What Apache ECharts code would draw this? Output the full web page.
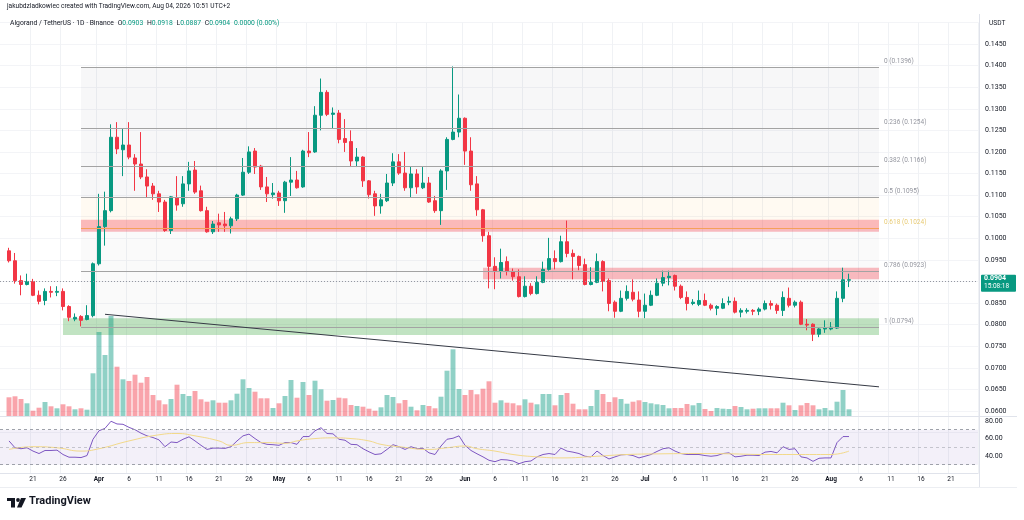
<!DOCTYPE html>
<html><head><meta charset="utf-8">
<script src="https://cdn.jsdelivr.net/npm/echarts@6/dist/echarts.min.js"></script>
<style>html,body{margin:0;padding:0;background:#fff}#c{width:1024px;height:520px}</style>
</head><body><div id="c"></div>
<script>
// ---------- DATA ----------
const axisStart = '2026-03-16';
const axisEnd = '2026-08-25';
const dataStart = '2026-03-17';
// daily candles [open, high, low, close]
const ohlc = [
// March 17-31
[0.0971,0.0978,0.0944,0.0948],[0.0948,0.0966,0.0895,0.0902],[0.0902,0.0914,0.0868,0.0893],[0.0893,0.0918,0.0891,0.0900],
[0.0900,0.0906,0.0866,0.0868],[0.0868,0.0879,0.0847,0.0854],[0.0856,0.0884,0.0845,0.0877],[0.0877,0.0889,0.0863,0.0875],
[0.0875,0.0889,0.0866,0.0877],[0.0877,0.0884,0.0833,0.0842],[0.0842,0.0845,0.0808,0.0817],[0.0813,0.0826,0.0808,0.0817],
[0.0819,0.0822,0.0796,0.0810],[0.0812,0.0845,0.0810,0.0821],[0.0821,0.0944,0.0817,0.0941],
// April
[0.0941,0.1103,0.0937,0.1027],[0.1027,0.1108,0.0983,0.1064],[0.1064,0.1264,0.1060,0.1234],[0.1234,0.1269,0.1195,0.1207],
[0.1205,0.1253,0.1144,0.1216],[0.1216,0.1269,0.1183,0.1188],[0.1186,0.1195,0.1110,0.1172],[0.1172,0.1246,0.1137,0.1142],
[0.1142,0.1160,0.1094,0.1121],[0.1121,0.1128,0.1089,0.1103],[0.1103,0.1110,0.1061,0.1084],[0.1084,0.1089,0.1015,0.1018],
[0.1018,0.1098,0.1010,0.1096],[0.1094,0.1144,0.1064,0.1077],[0.1080,0.1144,0.1073,0.1126],[0.1126,0.1177,0.1110,0.1156],
[0.1158,0.1179,0.1103,0.1107],[0.1110,0.1122,0.1062,0.1064],[0.1064,0.1073,0.1013,0.1015],[0.1015,0.1040,0.1010,0.1033],
[0.1036,0.1057,0.1015,0.1031],[0.1033,0.1061,0.1015,0.1029],[0.1029,0.1050,0.1011,0.1045],[0.1045,0.1103,0.1040,0.1100],
[0.1100,0.1186,0.1098,0.1153],[0.1153,0.1213,0.1149,0.1200],[0.1202,0.1209,0.1149,0.1165],[0.1167,0.1170,0.1112,0.1119],
[0.1119,0.1142,0.1084,0.1103],[0.1101,0.1128,0.1092,0.1105],
// May
[0.1105,0.1110,0.1075,0.1087],[0.1087,0.1133,0.1059,0.1130],[0.1130,0.1188,0.1098,0.1135],[0.1135,0.1156,0.1115,0.1117],
[0.1119,0.1205,0.1117,0.1202],[0.1202,0.1246,0.1188,0.1198],[0.1200,0.1306,0.1198,0.1285],[0.1285,0.1370,0.1250,0.1338],
[0.1338,0.1343,0.1283,0.1287],[0.1287,0.1303,0.1255,0.1290],[0.1290,0.1297,0.1220,0.1229],[0.1231,0.1276,0.1200,0.1222],
[0.1224,0.1250,0.1165,0.1179],[0.1179,0.1209,0.1165,0.1188],[0.1188,0.1190,0.1119,0.1133],[0.1133,0.1135,0.1092,0.1101],
[0.1103,0.1110,0.1052,0.1075],[0.1075,0.1103,0.1057,0.1089],[0.1087,0.1149,0.1084,0.1128],[0.1128,0.1197,0.1121,0.1177],
[0.1177,0.1195,0.1147,0.1151],[0.1151,0.1200,0.1110,0.1117],[0.1117,0.1167,0.1094,0.1149],[0.1149,0.1160,0.1103,0.1119],
[0.1117,0.1165,0.1114,0.1128],[0.1128,0.1142,0.1082,0.1084],[0.1087,0.1098,0.1059,0.1064],[0.1064,0.1160,0.1031,0.1156],
[0.1156,0.1234,0.1112,0.1229],[0.1229,0.1398,0.1227,0.1246],[0.1246,0.1333,0.1234,0.1278],
// June
[0.1278,0.1280,0.1170,0.1202],[0.1202,0.1234,0.1110,0.1124],[0.1126,0.1144,0.1052,0.1066],[0.1066,0.1068,0.0992,0.1006],
[0.1006,0.1015,0.0884,0.0935],[0.0935,0.0956,0.0882,0.0923],[0.0923,0.0976,0.0907,0.0944],[0.0946,0.0958,0.0914,0.0923],
[0.0923,0.0930,0.0902,0.0911],[0.0911,0.0928,0.0863,0.0865],[0.0865,0.0912,0.0863,0.0889],[0.0889,0.0896,0.0868,0.0872],
[0.0872,0.0912,0.0870,0.0898],[0.0898,0.0946,0.0896,0.0928],[0.0928,0.1001,0.0925,0.0953],[0.0953,0.0972,0.0928,0.0946],
[0.0946,0.1006,0.0944,0.0992],[0.0992,0.1041,0.0956,0.0965],[0.0965,0.0974,0.0905,0.0958],[0.0958,0.0960,0.0926,0.0937],
[0.0939,0.0953,0.0891,0.0893],[0.0893,0.0933,0.0891,0.0898],[0.0898,0.0965,0.0896,0.0946],[0.0946,0.0949,0.0877,0.0900],
[0.0902,0.0907,0.0831,0.0849],[0.0852,0.0856,0.0816,0.0831],[0.0831,0.0879,0.0829,0.0861],[0.0861,0.0891,0.0856,0.0877],
[0.0875,0.0905,0.0854,0.0859],[0.0857,0.0877,0.0817,0.0831],
// July
[0.0831,0.0872,0.0815,0.0845],[0.0845,0.0879,0.0843,0.0868],[0.0868,0.0907,0.0866,0.0896],[0.0896,0.0925,0.0889,0.0909],
[0.0909,0.0925,0.0891,0.0912],[0.0914,0.0916,0.0879,0.0889],[0.0889,0.0893,0.0859,0.0863],[0.0863,0.0877,0.0833,0.0849],
[0.0849,0.0859,0.0845,0.0852],[0.0847,0.0879,0.0843,0.0856],[0.0856,0.0872,0.0843,0.0845],[0.0845,0.0849,0.0833,0.0838],
[0.0838,0.0845,0.0822,0.0842],[0.0838,0.0861,0.0836,0.0849],[0.0852,0.0865,0.0845,0.0854],[0.0854,0.0863,0.0826,0.0829],
[0.0829,0.0838,0.0817,0.0833],[0.0831,0.0838,0.0826,0.0833],[0.0833,0.0836,0.0822,0.0831],[0.0831,0.0840,0.0822,0.0836],
[0.0836,0.0856,0.0833,0.0849],[0.0849,0.0856,0.0835,0.0845],[0.0845,0.0849,0.0825,0.0833],[0.0833,0.0877,0.0820,0.0863],
[0.0861,0.0886,0.0840,0.0845],[0.0845,0.0856,0.0840,0.0852],[0.0852,0.0856,0.0799,0.0801],[0.0801,0.0813,0.0787,0.0799],
[0.0801,0.0803,0.0762,0.0778],[0.0778,0.0792,0.0771,0.0790],[0.0790,0.0810,0.0781,0.0792],
// August 1-4
[0.0790,0.0806,0.0787,0.0794],[0.0792,0.0877,0.0790,0.0861],[0.0861,0.0932,0.0852,0.0904],[0.0903,0.0918,0.0887,0.0904]
];
const volume = [
18.7,19.7,17,12.7,5.3,8.3,14,9.7,7.7,11.7,9.7,6.7,7.7,6.3,42.7,
84,61,100,49.3,36.7,35,41.3,33.3,39,21,15.7,11.7,17,31.3,22,20,25,16.7,14.3,15.7,13.3,13.3,15.7,22.3,36.7,28,24.3,17.7,17.7,8,
12.7,20,36,18.3,34,21,35.3,26.7,15.3,16,18.3,17.7,11,10,9.3,7.3,5.3,8.7,21,19,12.7,16,9.3,5.7,11,10,7.7,19.3,45.3,66.7,27,
21,26,21.7,27.3,34.7,13.3,15.7,13.3,12.7,10.7,16.7,13.3,11.7,22,22,10.7,21,23,12.3,6.7,6.7,10,26,22,14,18.7,17,12.3,14.3,15.7,
14,12.7,11.7,11,7.7,8,8,12,10.7,13,7,5,8,7.3,7,10,9,6.7,7.3,7.7,7.7,7.7,7.7,13.3,10.7,6,10.7,13,10.7,6.7,8,
5.7,14.3,26,6.7
];
const rsi = [
57.2,49.4,48.3,49.4,45.6,42.8,46.3,46.3,46.7,41.7,38.6,38.6,38.2,40.5,59.1,
68.8,71.6,79.7,76.6,76.2,72.7,70,66.1,63,61.1,58.4,50.6,56,55.3,59.1,61.9,57.2,52.2,47.5,49,49,48.7,50.6,57.2,63,65,59.9,55.3,53.3,52.9,
52.2,55.3,55.3,53.3,62.2,62.2,68.8,72.3,65.7,65.3,59.1,58,53.3,52.9,48.3,44.8,41.7,42.5,47.5,52.9,50.6,47.5,50.6,48.3,48.7,43.6,41.7,51.4,59.1,60.3,63,
52.2,46.3,42.5,39,35.1,33.5,35.9,35.5,34.3,31.2,33.5,34.3,39,41.7,42.8,41.7,49,45.6,44.4,42.8,39.7,39,45.6,40.5,36.6,39,41.3,41.7,40.5,37.8,
39.7,41.7,45.2,48.3,49.4,45.6,42.8,41.7,41.7,41.7,40.5,39.7,40.5,42.8,43.6,39,39.7,40.9,40.9,40.5,44.4,45.2,43.6,50.6,47.5,48.3,39,37.8,33.9,37.4,37.8,
37.8,55.3,62.2,62.2
];
const rsiMa = [
['2026-03-17',47.5],['2026-03-21',50.6],['2026-03-25',49.4],['2026-03-29',45.6],['2026-04-01',48.3],['2026-04-06',57.2],
['2026-04-11',64.2],['2026-04-14',65.7],['2026-04-17',63],['2026-04-21',57.2],['2026-04-23',52.2],['2026-04-26',55.3],
['2026-04-29',55.3],['2026-05-02',54.5],['2026-05-04',57.2],['2026-05-07',59.9],['2026-05-10',60.7],['2026-05-13',59.9],
['2026-05-16',57.2],['2026-05-18',53.3],['2026-05-21',50.6],['2026-05-26',47.5],['2026-05-29',49.4],['2026-06-01',51.4],
['2026-06-03',48.3],['2026-06-06',45.6],['2026-06-09',41.7],['2026-06-13',39],['2026-06-17',37.8],['2026-06-23',39.7],
['2026-06-28',41.7],['2026-07-04',42.5],['2026-07-10',42.8],['2026-07-15',42.5],['2026-07-21',41.7],['2026-07-26',41.7],
['2026-08-01',41.7],['2026-08-04',45.6]
];
const fibRatios = ['0','0.236','0.382','0.5','0.618','0.786','1'];
const fibPrices = [0.1396,0.1254,0.1166,0.1095,0.1024,0.0923,0.0794];
const fibFrom = '2026-03-29', fibTo = '2026-08-09';
const zones = [
  {from:'2026-03-29', to:'2026-08-09', top:0.1043, bottom:0.1015, kind:'red'},
  {from:'2026-06-04', to:'2026-08-09', top:0.0932, bottom:0.0905, kind:'red'},
  {from:'2026-03-26', to:'2026-08-09', top:0.0815, bottom:0.0776, kind:'green'}
];
const trendline = [['2026-04-02',0.0824],['2026-08-09',0.0656]];
const lastPrice = 0.0904;
const countdown = '15:08:18';
const rsiLevels = [70,50,30];

// ---------- BUILD ----------
const months = ['Jan','Feb','Mar','Apr','May','Jun','Jul','Aug','Sep','Oct','Nov','Dec'];
const categories = [];
for (let t = Date.parse(axisStart+'T00:00:00Z'); t <= Date.parse(axisEnd+'T00:00:00Z'); t += 86400000) {
  categories.push(new Date(t).toISOString().slice(0,10));
}
const off = categories.indexOf(dataStart);
const pad = n => Array(n).fill('-');
const UP = '#089981', DOWN = '#f23645';
const candleData = pad(off).map(()=>['-','-','-','-']).concat(ohlc.map(r => [r[0], r[3], r[2], r[1]]));
const volData = pad(off).concat(volume.map((v,i) => ({value:v, itemStyle:{color: ohlc[i][3] >= ohlc[i][0] ? 'rgba(8,153,129,0.45)' : 'rgba(242,54,69,0.45)'}})));
const rsiData = pad(off).concat(rsi);
const showDay = (idx, val) => { if (idx < 2) return false; const d = +String(val).slice(8,10); return [1,6,11,16,21,26].indexOf(d) >= 0; };
const FONT = 'Roboto, "Liberation Sans", sans-serif';
const TXT = '#131722';

const fibFillColors = ['rgba(120,123,134,0.06)','rgba(120,123,134,0.06)','rgba(120,123,134,0.06)','rgba(255,152,0,0.05)','rgba(120,123,134,0.04)','rgba(120,123,134,0.04)'];
const fibAreas = [];
for (let i = 0; i < fibPrices.length-1; i++) {
  fibAreas.push([{coord:[fibFrom, fibPrices[i]], itemStyle:{color:fibFillColors[i]}}, {coord:[fibTo, fibPrices[i+1]]}]);
}
const fibLines = fibPrices.map((p,i) => [
  {coord:[fibFrom,p], lineStyle:{color: fibRatios[i]==='0.618' ? '#f5a05a' : '#a3a3a3', width:1, type:'solid'}},
  {coord:[fibTo,p]}
]);
const zoneAreas = zones.map(z => [
  {coord:[z.from, z.top], itemStyle:{color: z.kind==='red' ? 'rgba(242,54,69,0.33)' : 'rgba(76,175,80,0.35)'}},
  {coord:[z.to, z.bottom]}
]);

const splitX = {show:true, interval: showDay, lineStyle:{color:'#f0f2f5', width:1}};

const option = {
  animation:false,
  backgroundColor:'#ffffff',
  textStyle:{fontFamily:FONT},
  grid:[
    {left:0, top:22.4, width:978, height:410.2},
    {left:0, top:316, width:978, height:100},
    {left:0, top:416.6, width:978, height:56.9}
  ],
  xAxis:[
    {gridIndex:0, type:'category', data:categories, boundaryGap:true, axisLabel:{show:false}, axisTick:{show:false}, axisLine:{show:false}, splitLine:splitX},
    {gridIndex:1, type:'category', data:categories, boundaryGap:true, show:false},
    {gridIndex:2, type:'category', data:categories, boundaryGap:true, axisTick:{show:false},
      axisLine:{show:true, lineStyle:{color:'#e0e3eb'}}, splitLine:splitX,
      axisLabel:{interval: showDay, margin:2, fontSize:6.5, color:TXT, fontFamily:FONT,
        formatter: v => { const d = +v.slice(8,10); return d===1 ? '{b|'+months[+v.slice(5,7)-1]+'}' : String(d); },
        rich:{b:{fontWeight:'bold', fontSize:6.5, color:TXT, fontFamily:FONT}}}}
  ],
  yAxis:[
    {gridIndex:0, type:'value', position:'right', min:0.055, max:0.15, interval:0.005, scale:true,
      axisLine:{show:false}, axisTick:{show:false}, splitLine:{show:true, lineStyle:{color:'#f3f4f7'}},
      axisLabel:{margin:7, fontSize:7, color:TXT, fontFamily:FONT,
        formatter: v => { const r = Math.round(v*10000)/10000; return (r < 0.0599 || r > 0.1451) ? '' : r.toFixed(4); }}},
    {gridIndex:1, type:'value', min:0, max:100, show:false},
    {gridIndex:2, type:'value', position:'right', min:20, max:85, interval:20,
      axisLine:{show:false}, axisTick:{show:false}, splitLine:{show:false},
      axisLabel:{margin:7, fontSize:7, color:TXT, fontFamily:FONT,
        formatter: v => ([40,60,80].some(k => Math.abs(v-k)<0.01) ? v.toFixed(2) : '')}}
  ],
  series:[
    {name:'Fib', type:'scatter', xAxisIndex:0, yAxisIndex:0, symbolSize:0, silent:true,
      data: fibPrices.map((p,i) => ({value:[fibTo,p], label: fibRatios[i]==='0.618' ? {color:'#e2bd4f'} : undefined})),
      label:{show:true, position:'right', distance:5, offset:[0,-6], fontSize:6.5, fontFamily:FONT,
        color:'#787b86',
        formatter: p => fibRatios[p.dataIndex] + ' (' + fibPrices[p.dataIndex].toFixed(4) + ')'},
      markArea:{silent:true, data:fibAreas},
      markLine:{silent:true, symbol:['none','none'], label:{show:false}, data:fibLines}
    },
    {name:'Volume', type:'bar', xAxisIndex:1, yAxisIndex:1, data:volData, barCategoryGap:'18%', silent:true},
    {name:'ALGOUSDT', type:'candlestick', xAxisIndex:0, yAxisIndex:0, data:candleData, barWidth:4, silent:true,
      itemStyle:{color:UP, color0:DOWN, borderColor:UP, borderColor0:DOWN, borderWidth:1},
      markArea:{silent:true, data:zoneAreas},
      markLine:{silent:true, symbol:['none','none'], label:{show:false},
        data:[
          [{coord:trendline[0], lineStyle:{color:'#363a45', width:1, type:'solid'}},{coord:trendline[1]}],
          {yAxis:lastPrice, lineStyle:{color:'#9598a1', width:1, type:[1,2]}}
        ]}
    },
    {name:'RSI', type:'line', xAxisIndex:2, yAxisIndex:2, data:rsiData, symbol:'none', silent:true,
      lineStyle:{color:'#7e57c2', width:1},
      markArea:{silent:true, data:[[{yAxis:30, itemStyle:{color:'rgba(126,87,194,0.09)'}},{yAxis:70}]]},
      markLine:{silent:true, symbol:['none','none'], label:{show:false},
        data: rsiLevels.map(l => ({yAxis:l, lineStyle:{color:'#9598a1', width:1, type:[3,3], opacity: l===50 ? 0.5 : 0.9}}))}
    },
    {name:'RSI MA', type:'line', xAxisIndex:2, yAxisIndex:2, data:rsiMa, symbol:'none', smooth:0.5, silent:true,
      lineStyle:{color:'#f2d98a', width:1}}
  ]
};

function baseGraphics(){
  return [
    {type:'text', left:7, top:3, z:100, style:{text:'jakubdzladkowiec created with TradingView.com, Aug 04, 2026 10:51 UTC+2', fill:TXT, font:'6.6px '+FONT}},
    {type:'text', left:10, top:20, z:100, style:{
      text:'{d|Algorand / TetherUS · 1D · Binance}  {d|O}{g|0.0903}  {d|H}{g|0.0918}  {d|L}{g|0.0887}  {d|C}{g|0.0904}  {g|0.0000 (0.00%)}',
      rich:{d:{fill:TXT, fontSize:6.8, fontFamily:FONT}, g:{fill:UP, fontSize:6.8, fontFamily:FONT}}, fontSize:6.8}},
    {type:'text', left:989, top:20, z:100, style:{text:'USDT', fill:TXT, font:'6.6px '+FONT}},
    {type:'line', z:50, shape:{x1:979.5,y1:14,x2:979.5,y2:487}, style:{stroke:'#e0e3eb', lineWidth:1}},
    {type:'line', z:50, shape:{x1:0,y1:416.5,x2:1017,y2:416.5}, style:{stroke:'#e0e3eb', lineWidth:1}},
    {type:'line', z:50, shape:{x1:0,y1:487.5,x2:1017,y2:487.5}, style:{stroke:'#eceef2', lineWidth:1}},
    // TradingView logo
    {type:'rect', z:100, shape:{x:7,y:498,width:8,height:3}, style:{fill:TXT}},
    {type:'rect', z:100, shape:{x:11,y:498,width:4,height:9.5}, style:{fill:TXT}},
    {type:'circle', z:100, shape:{cx:18,cy:500,r:1.9}, style:{fill:TXT}},
    {type:'polygon', z:100, shape:{points:[[21,498],[26,498],[21.5,507.5],[17,507.5]]}, style:{fill:TXT}},
    {type:'text', left:29, top:496, z:100, style:{text:'TradingView', fill:TXT, font:'bold 11px '+FONT}}
  ];
}
const chart = echarts.init(document.getElementById('c'), null, {width:1024, height:520});
option.graphic = baseGraphics();
chart.setOption(option);
const py = chart.convertToPixel({yAxisIndex:0}, lastPrice);
const g = baseGraphics().concat([
  {type:'rect', z:200, shape:{x:981, y:py-5, width:35, height:17, r:1}, style:{fill:UP}},
  {type:'text', z:201, left:984, top:py-4.5, style:{text:lastPrice.toFixed(4), fill:'#ffffff', font:'bold 7px '+FONT}},
  {type:'text', z:201, left:984, top:py+3.5, style:{text:countdown, fill:'#ffffff', font:'6.5px '+FONT}}
]);
chart.setOption({graphic:g});
</script></body></html>
